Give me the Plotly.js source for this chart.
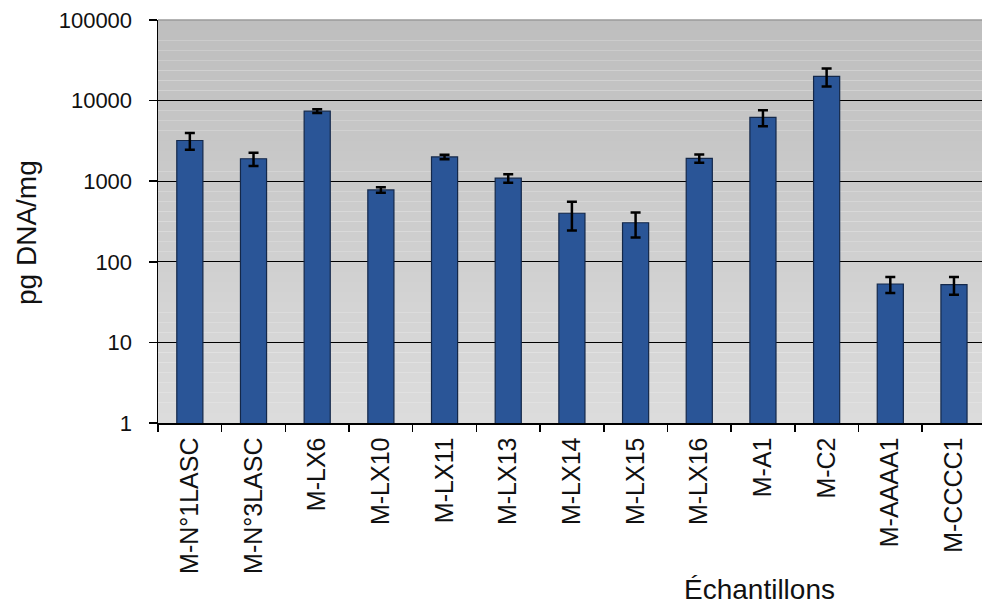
<!DOCTYPE html>
<html>
<head>
<meta charset="utf-8">
<script src="https://cdn.plot.ly/plotly-3.0.1.min.js"></script>
<style>html,body{margin:0;padding:0;background:#fff;overflow:hidden;}#chart{width:982px;height:608px;}</style>
</head>
<body>
<div id="chart"></div>
<script>
const categories = ["M-N°1LASC","M-N°3LASC","M-LX6","M-LX10","M-LX11","M-LX13","M-LX14","M-LX15","M-LX16","M-A1","M-C2","M-AAAA1","M-CCCC1"];
const values = [3200, 1900, 7400, 780, 2000, 1090, 400, 305, 1920, 6200, 20000, 53, 52];
const errors = [750, 360, 400, 60, 130, 130, 155, 105, 220, 1400, 5000, 12, 13];
const yTickVals = [1, 10, 100, 1000, 10000, 100000];
const yTickText = ["1", "10", "100", "1000", "10000", "100000"];

// background gradient strips (plot area)
const shapes = [];
const N = 40;
const bgTop = [190, 190, 190], bgBot = [220, 220, 220];
for (let i = 0; i < N; i++) {
  const t = i / (N - 1);
  const c = bgTop.map((v, k) => Math.round(v + (bgBot[k] - v) * t));
  shapes.push({type: 'rect', xref: 'x domain', yref: 'y domain', x0: 0, x1: 1,
    y0: 1 - (i + 1) / N, y1: 1 - i / N, fillcolor: `rgb(${c[0]},${c[1]},${c[2]})`,
    line: {width: 0}, layer: 'below'});
}
shapes.push({type: 'line', xref: 'x domain', yref: 'y domain', x0: 0, x1: 1, y0: 1, y1: 1,
  line: {color: '#9a9a9a', width: 1.5}, layer: 'above'});

const trace = {
  type: 'bar',
  x: categories,
  y: values,
  marker: {color: '#2a5597', line: {color: '#14284a', width: 1.2}},
  error_y: {type: 'data', array: errors, visible: true, color: '#000', thickness: 2.5, width: 5},
  hoverinfo: 'x+y'
};

const font = "Liberation Sans, Arial, sans-serif";
const layout = {
  width: 982, height: 608,
  margin: {l: 158, r: 0, t: 20, b: 185, pad: 0},
  paper_bgcolor: '#ffffff',
  plot_bgcolor: 'rgba(0,0,0,0)',
  showlegend: false,
  bargap: 0.59,
  shapes: shapes,
  xaxis: {
    type: 'category',
    range: [-0.5, 12.44],
    showgrid: false,
    showline: true, linecolor: '#000', linewidth: 1.5,
    ticks: 'outside', tickson: 'boundaries', ticklen: 7, tickcolor: '#000', tickwidth: 1.5,
    tickangle: -90,
    tickfont: {family: font, size: 25, color: '#111'},
    ticklabelstandoff: 3,
    zeroline: false
  },
  yaxis: {
    type: 'log',
    range: [0, 5],
    tickvals: yTickVals,
    ticktext: yTickText,
    showgrid: true, gridcolor: '#000', gridwidth: 1.3,
    showline: true, linecolor: '#000', linewidth: 1.5,
    ticks: 'outside', ticklen: 8, tickcolor: '#000', tickwidth: 1.5,
    tickfont: {family: font, size: 22, color: '#111'},
    ticklabelstandoff: 12,
    zeroline: false
  },
  annotations: [
    {text: 'Échantillons', xref: 'paper', yref: 'paper', x: 0.73, y: -0.414,
     xanchor: 'center', yanchor: 'middle', showarrow: false,
     font: {family: font, size: 28, color: '#111'}},
    {text: 'pg DNA/mg', xref: 'paper', yref: 'paper', x: -0.159, y: 0.474,
     xanchor: 'center', yanchor: 'middle', textangle: -90, showarrow: false,
     font: {family: font, size: 28, color: '#111'}}
  ]
};

Plotly.newPlot('chart', [trace], layout, {displayModeBar: false, staticPlot: true});
</script>
</body>
</html>
